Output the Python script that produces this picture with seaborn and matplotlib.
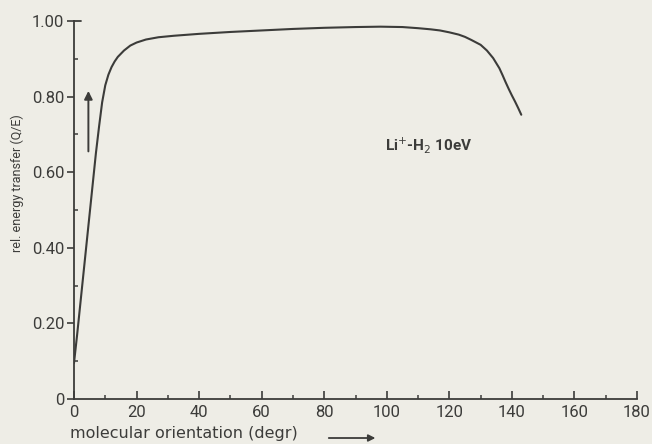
import matplotlib
matplotlib.use("Agg")
import matplotlib.pyplot as plt
from matplotlib.patches import FancyArrowPatch
from matplotlib.ticker import MultipleLocator, FixedLocator
import seaborn as sns
import pandas as pd

# Relative energy transfer versus molecular orientation, Li+ on H2 at 10 eV
orientation_deg = [0, 1, 2, 3, 4, 5, 6, 7, 8, 9, 10, 11, 12, 13, 14, 16, 18,
                   20, 23, 27, 32, 40, 50, 60, 70, 80, 90, 98, 105, 110,
                   114, 117, 120, 123, 125, 127, 130, 132, 134, 136, 137,
                   138, 139, 140, 141, 142, 143]
energy_transfer = [0.095, 0.17, 0.25, 0.33, 0.41, 0.49, 0.57, 0.65, 0.72,
                   0.785, 0.83, 0.858, 0.878, 0.893, 0.905, 0.922, 0.935,
                   0.943, 0.951, 0.957, 0.961, 0.966, 0.971, 0.975, 0.979,
                   0.982, 0.984, 0.985, 0.984, 0.981, 0.978, 0.975, 0.970,
                   0.964, 0.958, 0.950, 0.937, 0.922, 0.902, 0.875, 0.857,
                   0.838, 0.820, 0.803, 0.787, 0.770, 0.752]

x_ticks = [0, 20, 40, 60, 80, 100, 120, 140, 160, 180]
y_ticks = [0, 0.2, 0.4, 0.6, 0.8, 1.0]
y_tick_labels = ["0", "0.20", "0.40", "0.60", "0.80", "1.00"]

curve_label = r"Li$^{+}$-H$_{2}$ 10eV"
x_label = "molecular orientation (degr)"
y_label = "rel. energy transfer (Q/E)"

paper = "#eeede6"
ink = "#3c3c3a"

sns.set_theme(style="white")
plt.rcParams["font.family"] = ["Roboto", "DejaVu Sans"]

df = pd.DataFrame({"orientation": orientation_deg, "transfer": energy_transfer})

fig = plt.figure(figsize=(6.52, 4.44), dpi=100, facecolor=paper)
ax = fig.add_axes([0.1135, 0.1014, 0.8635, 0.8513])
ax.set_facecolor(paper)

sns.lineplot(data=df, x="orientation", y="transfer", ax=ax,
             color=ink, linewidth=1.5, estimator=None, sort=False)

ax.set_xlim(0, 180)
ax.set_ylim(0, 1.0)

for side in ("top", "right"):
    ax.spines[side].set_visible(False)
for side in ("left", "bottom"):
    ax.spines[side].set_color(ink)
    ax.spines[side].set_linewidth(1.3)

ax.xaxis.set_major_locator(FixedLocator(x_ticks))
ax.xaxis.set_minor_locator(MultipleLocator(10))
ax.yaxis.set_major_locator(FixedLocator(y_ticks))
ax.yaxis.set_minor_locator(MultipleLocator(0.1))
ax.set_yticklabels(y_tick_labels)

ax.tick_params(which="both", bottom=True, left=True, top=False, right=False)
ax.tick_params(axis="x", which="major", direction="in", length=6, width=1.2,
               color=ink, labelsize=12, labelcolor=ink, pad=4)
ax.tick_params(axis="x", which="minor", direction="in", length=3, width=1.1,
               color=ink)
ax.tick_params(axis="y", which="major", direction="out", length=5, width=1.2,
               color=ink, labelsize=12, labelcolor=ink, pad=2)
ax.tick_params(axis="y", which="minor", direction="in", length=3, width=1.1,
               color=ink)

# short inward cap at the top of the y axis
ax.plot([0, 2.2], [1.0, 1.0], color=ink, linewidth=1.3, clip_on=False)

ax.text(99.5, 0.672, curve_label, fontsize=11, fontweight="bold",
        color=ink, va="center", ha="left")

# arrow marking the direction of increasing transfer
ax.annotate("", xy=(4.6, 0.815), xytext=(4.6, 0.655),
            arrowprops=dict(arrowstyle="-|>", color=ink, lw=1.4,
                            mutation_scale=12, shrinkA=0, shrinkB=0))

ax.set_xlabel("")
ax.set_ylabel("")
fig.text(0.107, 0.006, x_label, fontsize=11.5, color=ink,
         family=["DejaVu Sans"], ha="left", va="bottom")
fig.text(0.026, 0.588, y_label, fontsize=9, color=ink, rotation=90,
         ha="center", va="center")

# arrow after the x axis label
fig.add_artist(FancyArrowPatch(
    (0.500, 0.0135), (0.580, 0.0135),
    transform=fig.transFigure, arrowstyle="-|>", mutation_scale=10,
    color=ink, lw=1.3))

fig.savefig("out.png", dpi=100, facecolor=paper)
